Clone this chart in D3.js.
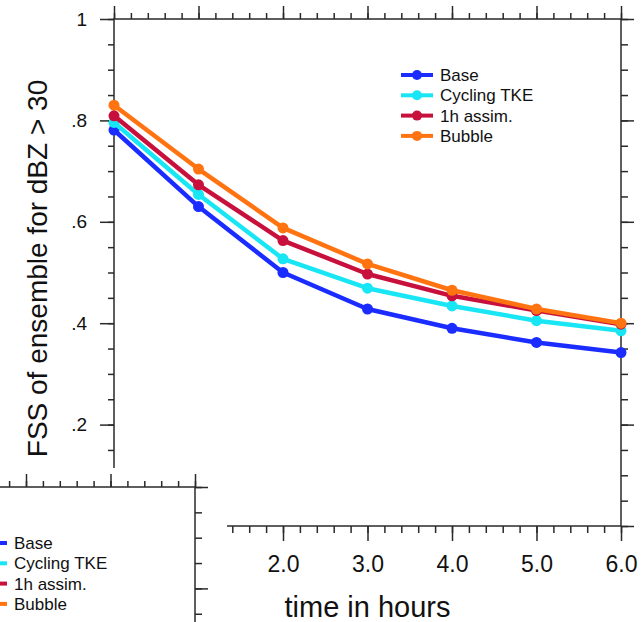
<!DOCTYPE html>
<html>
<head>
<meta charset="utf-8">
<script src="https://cdn.jsdelivr.net/npm/d3@7"></script>
<style>
  body { margin: 0; background: #fff; }
  svg { display: block; font-family: "Liberation Sans", Arial, Helvetica, sans-serif; }
</style>
</head>
<body>
<svg id="chart" width="643" height="622"></svg>
<script>
// data
var hours = [0, 1, 2, 3, 4, 5, 6];
var seriesNames = ["Base", "Cycling TKE", "1h assim.", "Bubble"];
var seriesColors = ["#1a2cff", "#19e6f5", "#c8103c", "#ff7310"];
var base     = [0.781, 0.630, 0.500, 0.428, 0.390, 0.362, 0.342];
var cycling  = [0.796, 0.654, 0.527, 0.469, 0.434, 0.405, 0.385];
var assim    = [0.809, 0.673, 0.563, 0.497, 0.454, 0.425, 0.398];
var bubble   = [0.830, 0.704, 0.588, 0.517, 0.465, 0.428, 0.400];
var xTicks = [0, 1, 2, 3, 4, 5, 6];
var yTicks = [0, 0.2, 0.4, 0.6, 0.8, 1];

var seriesValues = [base, cycling, assim, bubble];

var width = 643, height = 622;
var plotL = 114, plotR = 621, plotT = 19, plotB = 526;

var xScale = d3.scaleLinear().domain([0, 6]).range([plotL, plotR]);
var yScale = d3.scaleLinear().domain([0, 1]).range([plotB, plotT]);

var axisColor = "#2a2a2a";

function yFormat(d) {
	if (d === 0) return "0";
	if (d === 1) return "1";
	return d3.format(".1f")(d).replace(/^0/, "");
}

function minorTicks(domain, step) {
	var out = [];
	for (var v = domain[0]; v <= domain[1] + 1e-9; v += step) out.push(+v.toFixed(3));
	return out;
}

function styleAxis(sel) {
	sel.select(".domain").remove();
	sel.selectAll("line").attr("stroke", axisColor).attr("stroke-width", 1.5);
	sel.selectAll("text").attr("fill", "#111");
}

function drawPanel(g) {
	/* axes: major + minor ticks on four sides, all outward */
	var xMinor = minorTicks([0, 6], 0.2), yMinor = minorTicks([0, 1], 0.05);

	// bottom
	g.append("g").attr("transform", "translate(0," + plotB + ")")
		.call(d3.axisBottom(xScale).tickValues(xMinor).tickSize(7).tickFormat(""))
		.call(styleAxis);
	g.append("g").attr("transform", "translate(0," + plotB + ")")
		.call(d3.axisBottom(xScale).tickValues(xTicks).tickSize(15).tickPadding(15)
			.tickFormat(d3.format(".1f")))
		.call(styleAxis)
		.selectAll("text").attr("font-size", 23);
	// top
	g.append("g").attr("transform", "translate(0," + plotT + ")")
		.call(d3.axisTop(xScale).tickValues(xMinor).tickSize(6).tickFormat(""))
		.call(styleAxis);
	g.append("g").attr("transform", "translate(0," + plotT + ")")
		.call(d3.axisTop(xScale).tickValues(xTicks).tickSize(13).tickFormat(""))
		.call(styleAxis);
	// left
	g.append("g").attr("transform", "translate(" + plotL + ",0)")
		.call(d3.axisLeft(yScale).tickValues(yMinor).tickSize(6).tickFormat(""))
		.call(styleAxis);
	g.append("g").attr("transform", "translate(" + plotL + ",0)")
		.call(d3.axisLeft(yScale).tickValues(yTicks).tickSize(14).tickPadding(13).tickFormat(yFormat))
		.call(styleAxis)
		.selectAll("text").attr("font-size", 19);
	// right
	g.append("g").attr("transform", "translate(" + plotR + ",0)")
		.call(d3.axisRight(yScale).tickValues(yMinor).tickSize(7).tickFormat(""))
		.call(styleAxis);
	g.append("g").attr("transform", "translate(" + plotR + ",0)")
		.call(d3.axisRight(yScale).tickValues(yTicks).tickSize(13).tickFormat(""))
		.call(styleAxis);

	// frame
	g.append("rect")
		.attr("x", plotL).attr("y", plotT)
		.attr("width", plotR - plotL).attr("height", plotB - plotT)
		.attr("fill", "none").attr("stroke", axisColor).attr("stroke-width", 1.5);

	/* titles */
	g.append("text")
		.attr("x", (plotL + plotR) / 2).attr("y", 617)
		.attr("text-anchor", "middle").attr("font-size", 29).attr("fill", "#111")
		.text("time in hours");
	g.append("text")
		.attr("transform", "translate(47," + ((plotT + plotB) / 2 - 4) + ") rotate(-90)")
		.attr("text-anchor", "middle").attr("font-size", 28).attr("fill", "#111")
		.text("FSS of ensemble for dBZ > 30");

	/* lines */
	var line = d3.line().x(function (d, i) { return xScale(hours[i]); }).y(function (d) { return yScale(d); });
	seriesValues.forEach(function (vals, k) {
		var s = g.append("g").attr("class", "series");
		s.append("path").datum(vals)
			.attr("d", line).attr("fill", "none")
			.attr("stroke", seriesColors[k]).attr("stroke-width", 4.5)
			.attr("stroke-linejoin", "round");
		s.selectAll("circle").data(vals).enter().append("circle")
			.attr("cx", function (d, i) { return xScale(hours[i]); })
			.attr("cy", function (d) { return yScale(d); })
			.attr("r", 5.5).attr("fill", seriesColors[k]);
	});

	/* legend */
	var lg = g.append("g").attr("transform", "translate(401,75)");
	seriesNames.forEach(function (name, k) {
		var row = lg.append("g").attr("transform", "translate(0," + (k * 20.3) + ")");
		row.append("line").attr("x1", 0).attr("x2", 32).attr("y1", 0).attr("y2", 0)
			.attr("stroke", seriesColors[k]).attr("stroke-width", 4);
		row.append("circle").attr("cx", 16).attr("cy", 0).attr("r", 5).attr("fill", seriesColors[k]);
		row.append("text").attr("x", 39).attr("y", 0).attr("dy", "0.36em")
			.attr("font-size", 17).attr("fill", "#111").text(name);
	});
}

var svg = d3.select("#chart");
svg.append("rect").attr("width", width).attr("height", height).attr("fill", "#fff");

// main plot
var mainG = svg.append("g").attr("class", "main");
drawPanel(mainG);

// shifted second copy of the plot in the lower-left corner
var shiftX = -426, shiftY = 468;
var copyW = width + shiftX + 10;

// main labels that end up fully under the copy are hidden anyway, drop them
mainG.selectAll("text").filter(function () {
	var b = this.getBoundingClientRect();
	return b.left >= 0 && b.right <= copyW && b.top >= shiftY;
}).remove();

svg.append("clipPath").attr("id", "copyClip")
	.append("rect").attr("x", 0).attr("y", shiftY).attr("width", copyW).attr("height", height - shiftY);
var copyOuter = svg.append("g").attr("clip-path", "url(#copyClip)");
copyOuter.append("rect").attr("x", 0).attr("y", shiftY)
	.attr("width", copyW).attr("height", height - shiftY).attr("fill", "#fff");
var copyG = copyOuter.append("g").attr("transform", "translate(" + shiftX + "," + shiftY + ")");
drawPanel(copyG);

// copy texts that fall outside the visible corner are never seen
copyG.selectAll("text").filter(function () {
	var b = this.getBoundingClientRect();
	return b.right <= 0 || b.top >= height || b.left >= copyW;
}).remove();
</script>
</body>
</html>
